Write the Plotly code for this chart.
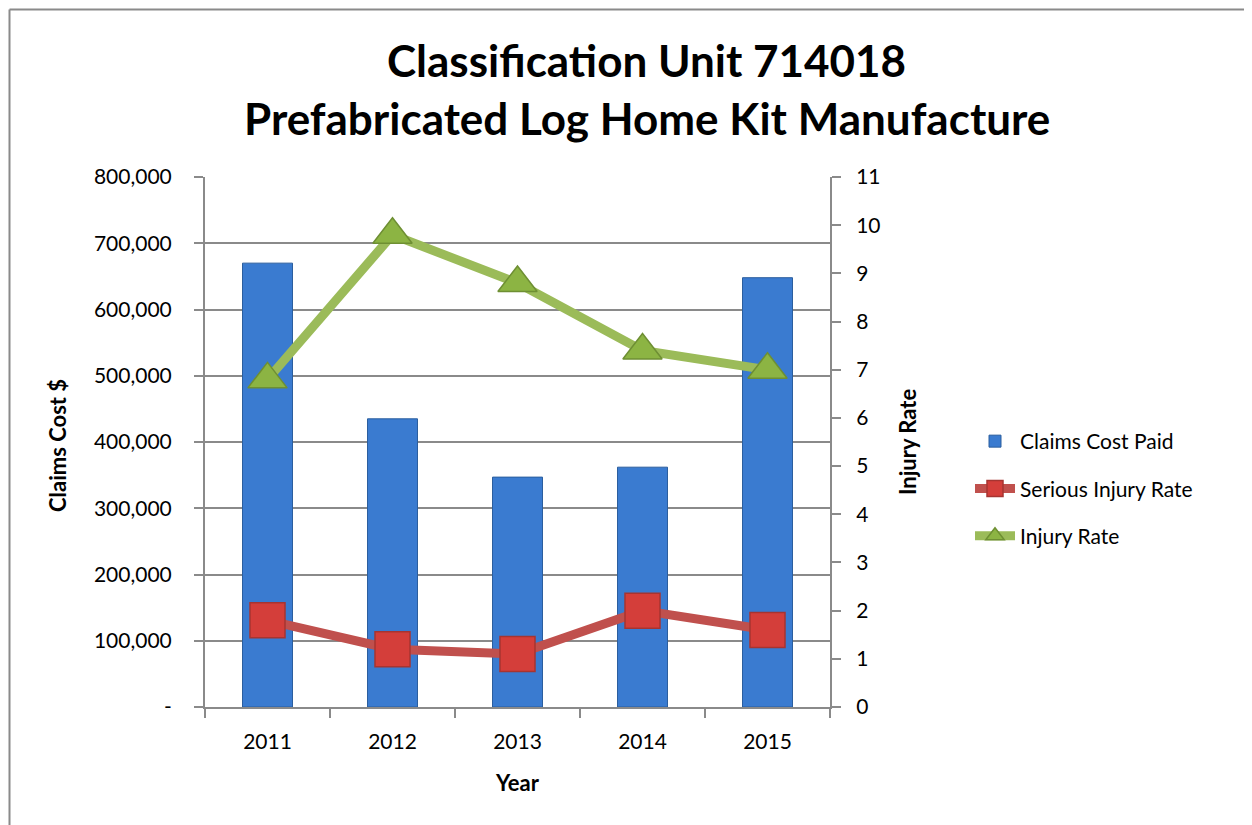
import plotly.graph_objects as go

years = ["2011", "2012", "2013", "2014", "2015"]
claims_cost = [670000, 435000, 347000, 362000, 648000]
serious_injury_rate = [1.8, 1.2, 1.1, 2.0, 1.6]
injury_rate = [6.8, 9.8, 8.8, 7.4, 7.0]

left_tickvals = [0, 100000, 200000, 300000, 400000, 500000, 600000, 700000, 800000]
left_ticktext = ["-", "100,000", "200,000", "300,000", "400,000", "500,000",
                 "600,000", "700,000", "800,000"]
right_tickvals = list(range(0, 12))

FONT = "Lato"
GRAY = "#8a8a8a"
OFF = 8  # page body margin

fig = go.Figure()
fig.add_trace(go.Bar(
    x=years, y=claims_cost, name="Claims Cost Paid", width=0.4,
    marker=dict(color="#3A7BD0", line=dict(color="#2B5E9E", width=1)),
    legendgroup="a", yaxis="y",
))
fig.add_trace(go.Scatter(
    x=years, y=serious_injury_rate, name="Serious Injury Rate", mode="lines+markers",
    line=dict(color="#C0504D", width=9),
    marker=dict(symbol="square", size=35, color="#D43E3A", line=dict(color="#A63431", width=1.5)),
    legendgroup="b", yaxis="y2",
))
fig.add_trace(go.Scatter(
    x=years, y=injury_rate, name="Injury Rate", mode="lines+markers",
    line=dict(color="#9BBB59", width=9),
    marker=dict(symbol="triangle-up", size=34, color="#8CB443", line=dict(color="#6E8F33", width=1.5)),
    legendgroup="c", yaxis="y2",
))

FW, FH = 1252 - OFF, 825 - OFF
L, T = 205 - OFF, 177 - OFF
W, H = 625, 530
R, B = FW - L - W, FH - T - H

def px(x):
    return (x - OFF - L) / W

def py(y):
    return (T + H - (y - OFF)) / H

fig.update_layout(
    width=FW, height=FH,
    margin=dict(l=L, r=R, t=T, b=B, autoexpand=False),
    paper_bgcolor="white", plot_bgcolor="white",
    font=dict(family=FONT, size=21, color="black"),
    showlegend=True,
    legend=dict(x=px(970), y=py(421), xanchor="left", yanchor="top",
                font=dict(size=21), traceorder="grouped", tracegroupgap=17,
                itemwidth=40, bgcolor="rgba(0,0,0,0)"),
    xaxis=dict(type="category", tickson="boundaries", ticks="outside", ticklen=9,
               tickcolor=GRAY, tickwidth=1.5, showline=True, linecolor=GRAY, linewidth=2,
               showgrid=False, tickfont=dict(size=21), ticklabelstandoff=15,
               range=[-0.5, 4.5]),
    yaxis=dict(range=[0, 800000], tickvals=left_tickvals, ticktext=left_ticktext,
               ticks="outside", ticklen=9, tickcolor=GRAY, tickwidth=1.5,
               showline=True, linecolor=GRAY, linewidth=2,
               showgrid=True, gridcolor=GRAY, gridwidth=1.5,
               tickfont=dict(size=21), ticklabelstandoff=18, zeroline=False),
    yaxis2=dict(range=[0, 11], tickvals=right_tickvals, overlaying="y", side="right",
                ticks="outside", ticklen=9, tickcolor=GRAY, tickwidth=1.5,
                showline=True, linecolor=GRAY, linewidth=2, showgrid=False,
                tickfont=dict(size=21), ticklabelstandoff=11, zeroline=False),
    bargap=0.6,
)

annotations = [
    dict(text="<b>Classification Unit 714018</b>", x=px(646), y=py(60), font=dict(size=44)),
    dict(text="<b>Prefabricated Log Home Kit Manufacture</b>", x=px(647), y=py(118), font=dict(size=44)),
    dict(text="<b>Claims Cost $</b>", x=px(57), y=py(446), textangle=-90, font=dict(size=22)),
    dict(text="<b>Injury Rate</b>", x=px(907), y=py(442), textangle=-90, font=dict(size=22)),
    dict(text="<b>Year</b>", x=px(517), y=py(782), font=dict(size=22)),
]
for a in annotations:
    a.update(xref="paper", yref="paper", showarrow=False, xanchor="center", yanchor="middle")
fig.update_layout(annotations=annotations)

fig.add_shape(type="line", xref="paper", yref="paper", x0=px(9.5), x1=px(9.5), y0=py(9.5), y1=py(840),
              line=dict(color=GRAY, width=2))
fig.add_shape(type="line", xref="paper", yref="paper", x0=px(9.5), x1=px(1270), y0=py(9.5), y1=py(9.5),
              line=dict(color=GRAY, width=2))

fig.write_html("out.html")
